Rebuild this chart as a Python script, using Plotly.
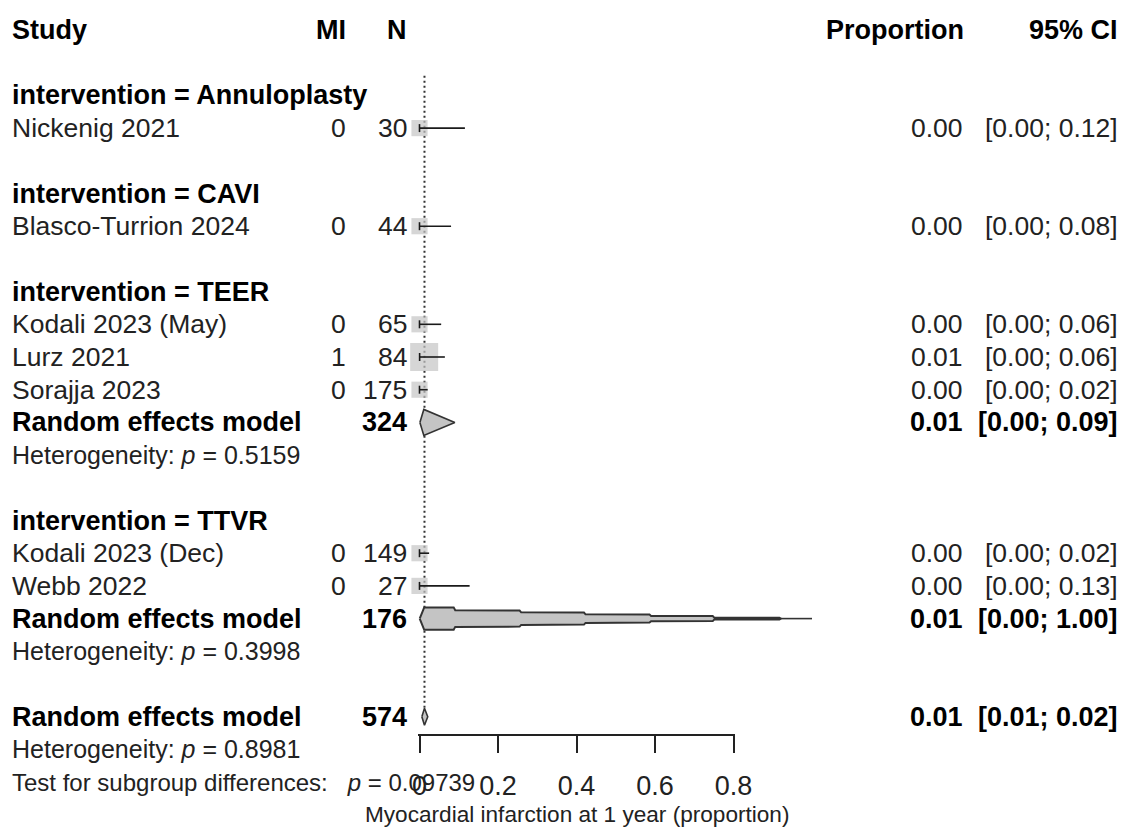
import math
import plotly.graph_objects as go

# ---------------- data ----------------
study = ["Nickenig 2021", "Blasco-Turrion 2024", "Kodali 2023 (May)", "Lurz 2021",
         "Sorajja 2023", "Kodali 2023 (Dec)", "Webb 2022"]
group = ["Annuloplasty", "CAVI", "TEER", "TEER", "TEER", "TTVR", "TTVR"]
events = [0, 0, 0, 1, 0, 0, 0]
total = [30, 44, 65, 84, 175, 149, 27]
prop = [0.0, 0.0, 0.0, 0.0119, 0.0, 0.0, 0.0]
lower = [0.0, 0.0, 0.0, 0.0003, 0.0, 0.0, 0.0]
upper = [0.1157, 0.0804, 0.0552, 0.0646, 0.0209, 0.0245, 0.1277]
weight = [10, 10, 10, 30, 10, 10, 10]          # relative weights

group_names = ["Annuloplasty", "CAVI", "TEER", "TTVR"]
re_group = ["TEER", "TTVR", "Overall"]
re_n = [324, 176, 574]
re_prop = [0.011, 0.012, 0.0127]
re_lower = [0.001, 0.0005, 0.006]
re_upper = [0.090, 1.000, 0.021]
het_p = ["0.5159", "0.3998", "0.8981"]
subgroup_p = "0.09739"

tick_vals = [0, 0.2, 0.4, 0.6, 0.8]
tick_text = ["0", "0.2", "0.4", "0.6", "0.8"]
x_title = "Myocardial infarction at 1 year (proportion)"

# ---------------- layout constants ----------------
W, H = 1124, 835
X0_PX = 419.5        # pixel of proportion 0
PPU = 392.5          # pixels per unit proportion
ROW0_PX = 30.0       # pixel of header row
ROW_STEP = 32.7      # pixels per row

FONT = "Liberation Sans, Arial, sans-serif"
FS = 26.5
FS_BOLD = 27
FS_SMALL = 25
FS_TEST = 24
FS_TICK = 27
FS_TITLE = 22.6
DARK = "#222222"
BLACK = "#000000"
GRAY = "#c4c4c4"

PADL = -2.0     # compensate annotation box padding
PADR = 2.5
X_STUDY = 12
X_MI = 345
X_N = 406
X_PROP = 962
X_CI = 1117


def py(h_px):
    return h_px / ROW_STEP


annotations = []


def txt(x_px, row, s, anchor="left", bold=False, size=None):
    if size is None:
        size = FS_BOLD if bold else FS
    x_px = x_px + (PADL if anchor == "left" else PADR)
    annotations.append(dict(
        x=x_px / W, y=row, xref="paper", yref="y",
        text=f"<b>{s}</b>" if bold else s, showarrow=False,
        xanchor=anchor, yanchor="middle",
        font=dict(family=FONT, size=size, color=BLACK if bold else DARK)))


def fmt(v):
    return f"{v:.2f}"


# ---------------- rows ----------------
txt(X_STUDY, 0, "Study", bold=True)
txt(X_MI, 0, "MI", anchor="right", bold=True)
txt(X_N, 0, "N", anchor="right", bold=True)
txt(X_PROP + 1, 0, "Proportion", anchor="right", bold=True)
txt(X_CI, 0, "95% CI", anchor="right", bold=True)

study_rows = []
re_rows = []
r = 2
for g in group_names:
    txt(X_STUDY, r, f"intervention = {g}", bold=True)
    r += 1
    for i, s in enumerate(study):
        if group[i] != g:
            continue
        study_rows.append(r)
        txt(X_STUDY, r, s)
        txt(X_MI, r, str(events[i]), anchor="right")
        txt(X_N, r, str(total[i]), anchor="right")
        txt(X_PROP, r, fmt(prop[i]), anchor="right")
        txt(X_CI, r, f"[{fmt(lower[i])}; {fmt(upper[i])}]", anchor="right")
        r += 1
    if g in re_group:
        k = re_group.index(g)
        re_rows.append(r)
        txt(X_STUDY, r, "Random effects model", bold=True)
        txt(X_N, r, str(re_n[k]), anchor="right", bold=True)
        txt(X_PROP, r, fmt(re_prop[k]), anchor="right", bold=True)
        txt(X_CI, r, f"[{fmt(re_lower[k])}; {fmt(re_upper[k])}]", anchor="right", bold=True)
        txt(X_STUDY, r + 1, f"Heterogeneity: <i>p</i> = {het_p[k]}", size=FS_SMALL)
        r += 2
    r += 1

k = 2
re_rows.append(r)
txt(X_STUDY, r, "Random effects model", bold=True)
txt(X_N, r, str(re_n[k]), anchor="right", bold=True)
txt(X_PROP, r, fmt(re_prop[k]), anchor="right", bold=True)
txt(X_CI, r, f"[{fmt(re_lower[k])}; {fmt(re_upper[k])}]", anchor="right", bold=True)
txt(X_STUDY, r + 1, f"Heterogeneity: <i>p</i> = {het_p[k]}", size=FS_SMALL)
txt(X_STUDY, r + 2, f"Test for subgroup differences:   <i>p</i> = {subgroup_p}", size=FS_TEST)
annotations.append(dict(x=0.4, y=r + 3, xref="x", yref="y", text=x_title, showarrow=False,
                        xanchor="center", yanchor="middle",
                        font=dict(family=FONT, size=FS_TITLE, color=DARK)))
overall_row = r

fig = go.Figure()

# dotted reference line at overall estimate
fig.add_trace(go.Scatter(x=[re_prop[2], re_prop[2]], y=[1.4, overall_row - py(9)],
                         mode="lines", line=dict(color="#333333", width=2, dash="2px,3px"),
                         hoverinfo="skip", showlegend=False))

# study squares
fig.add_trace(go.Scatter(
    x=prop, y=study_rows, mode="markers",
    marker=dict(symbol="square", color=GRAY, size=[28 * math.sqrt(w / max(weight)) for w in weight],
                line=dict(width=0)),
    hoverinfo="skip", showlegend=False))

# CI lines
cx, cy = [], []
tick_h = py(4)
for i in range(len(study)):
    rr = study_rows[i]
    cx += [lower[i], lower[i], None, lower[i], upper[i], None]
    cy += [rr - tick_h, rr + tick_h, None, rr, rr, None]
fig.add_trace(go.Scatter(x=cx, y=cy, mode="lines", line=dict(color="#1a1a1a", width=1.6),
                         hoverinfo="skip", showlegend=False))

# diamonds
half_h = [13.0, 11.2, 8.5]
# taper profile for the wide (back-transformed) diamond: (fraction from estimate to upper, half-height px)
TAPER = [(0.0, 11.2), (0.076, 11.2), (0.08, 8.3), (0.246, 8.0), (0.25, 6.3), (0.412, 6.0),
         (0.416, 4.3), (0.581, 4.0), (0.585, 2.7), (0.744, 2.5), (0.748, 1.0), (0.916, 0.8),
         (0.92, 0.0)]
for k in range(3):
    rr = re_rows[k]
    lo, est, hi = re_lower[k], re_prop[k], re_upper[k]
    if k == 1:
        top = [(lo, rr), (est, rr - py(half_h[k]))]
        for f, h in TAPER[1:]:
            top.append((est + f * (hi - est), rr - py(h)))
        bot = [(x, 2 * rr - y) for x, y in reversed(top[1:])]
        pts = top + bot
        fig.add_trace(go.Scatter(x=[p[0] for p in pts] + [pts[0][0]], y=[p[1] for p in pts] + [pts[0][1]],
                                 mode="lines", fill="toself", fillcolor=GRAY,
                                 line=dict(color="#333333", width=2),
                                 hoverinfo="skip", showlegend=False))
        tail_start = est + TAPER[-1][0] * (hi - est)
        fig.add_trace(go.Scatter(x=[tail_start, hi], y=[rr, rr], mode="lines",
                                 line=dict(color="#333333", width=1.6),
                                 hoverinfo="skip", showlegend=False))
    else:
        xs = [lo, est, hi, est, lo]
        ys = [rr, rr - py(half_h[k]), rr, rr + py(half_h[k]), rr]
        fig.add_trace(go.Scatter(x=xs, y=ys, mode="lines", fill="toself", fillcolor=GRAY,
                                 line=dict(color="#333333", width=1.6),
                                 hoverinfo="skip", showlegend=False))

# axis carrier trace
fig.add_trace(go.Scatter(x=[0, 0.8], y=[0, 0], xaxis="x2", yaxis="y", mode="markers",
                         marker=dict(opacity=0), hoverinfo="skip", showlegend=False))

AX_Y_PX = 735
ax_lo, ax_hi = -0.003, 0.803
fig.update_layout(
    width=W, height=H, margin=dict(l=0, r=0, t=0, b=0, pad=0, autoexpand=False),
    paper_bgcolor="white", plot_bgcolor="rgba(0,0,0,0)",
    xaxis=dict(range=[-X0_PX / PPU, (W - X0_PX) / PPU], domain=[0, 1], visible=False),
    yaxis=dict(range=[(H - ROW0_PX) / ROW_STEP, -ROW0_PX / ROW_STEP], domain=[0, 1], visible=False),
    xaxis2=dict(domain=[(X0_PX + ax_lo * PPU) / W, (X0_PX + ax_hi * PPU) / W], range=[ax_lo, ax_hi],
                anchor="free", position=1 - AX_Y_PX / H, showline=True, linecolor="#222222", linewidth=1.6,
                ticks="outside", ticklen=17, tickwidth=1.6, tickcolor="#222222",
                tickvals=tick_vals, ticktext=tick_text, showgrid=False, zeroline=False,
                tickfont=dict(family=FONT, size=FS_TICK, color=DARK), ticklabelstandoff=10),
    annotations=annotations,
    showlegend=False,
)

fig.write_html("out.html", config={"displayModeBar": False},
               post_script="document.body.style.margin='0';document.body.style.overflow='hidden';")
